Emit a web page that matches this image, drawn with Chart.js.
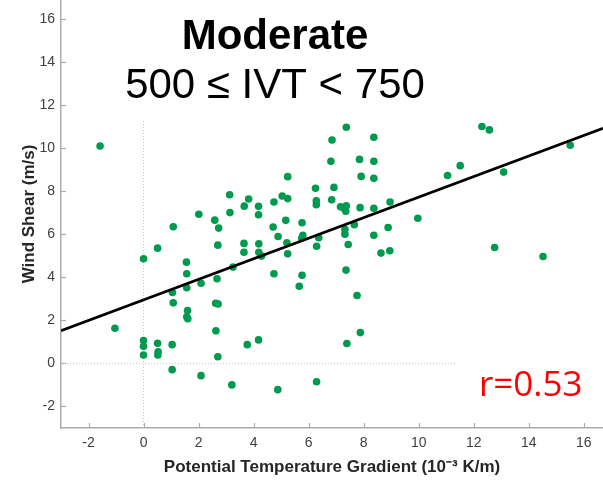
<!DOCTYPE html>
<html>
<head>
<meta charset="utf-8">
<script src="https://cdn.jsdelivr.net/npm/chart.js@4.4.1/dist/chart.umd.min.js"></script>
<style>
  html, body { margin: 0; padding: 0; background: #fff; overflow: hidden; }
  #wrap { position: relative; width: 603px; height: 481px; }
</style>
</head>
<body>
<div id="wrap"><canvas id="shearChart"></canvas></div>
<script>
// potential temperature gradient (10^-3 K/m) and wind shear (m/s)
const gradient = [
  -1.58, 0, 0.51, 1.08, 2.01, 2.59, 2.73, 2.70, 3.13, 3.14,
  1.56, 1.57, 3.25, 2.67, 2.09, 1.57, 1.05, 1.08, 2.62, 2.71,
  1.60, 1.57, 1.61, -1.04, 2.63, 0, 0, 0.51, 1.04, 0.53,
  0.52, 0, 2.70, 1.04, 2.09, 3.21, 7.37, 8.37, 6.85, 6.81,
  7.85, 8.37, 7.91, 8.37, 5.24, 6.92, 6.25, 3.82, 3.66, 4.18,
  4.18, 4.74, 5.04, 5.24, 6.28, 6.28, 6.84, 7.16, 7.27, 7.37,
  7.35, 7.87, 8.37, 8.96, 9.97, 5.17, 4.71, 5.76, 5.79, 5.75,
  4.89, 6.37, 7.32, 7.32, 7.66, 8.89, 8.37, 7.44, 6.29, 5.21,
  5.24, 4.19, 3.65, 3.65, 4.19, 4.29, 8.63, 8.95, 4.74, 5.76,
  5.66, 7.36, 7.76, 7.88, 7.39, 4.18, 3.77, 4.88, 6.29, 12.30,
  12.57, 15.51, 11.51, 11.05, 13.09, 12.76, 14.52
];
const shear = [
  10.09, 4.86, 5.35, 6.34, 6.92, 6.65, 6.28, 5.49, 7.83, 7.00,
  4.70, 4.16, 4.47, 3.93, 3.72, 3.51, 3.29, 2.81, 2.79, 2.76,
  2.45, 2.16, 2.07, 1.63, 1.51, 1.06, 0.79, 0.93, 0.87, 0.54,
  0.39, 0.39, 0.31, -0.29, -0.57, -1.00, 10.96, 10.50, 10.37, 9.38,
  9.47, 9.38, 8.68, 8.59, 8.67, 8.17, 8.13, 7.63, 7.30, 7.29,
  6.90, 7.49, 7.77, 7.65, 7.55, 7.37, 7.60, 7.27, 7.21, 7.32,
  7.06, 7.23, 7.20, 7.49, 6.74, 6.64, 6.33, 6.53, 5.95, 5.81,
  5.89, 5.83, 6.22, 6.00, 6.44, 6.31, 5.95, 5.52, 5.44, 5.60,
  5.09, 5.55, 5.57, 5.16, 5.16, 4.98, 5.12, 5.23, 4.16, 4.09,
  3.58, 4.33, 3.15, 1.43, 0.92, 1.09, 0.87, -1.22, -0.85, 11.00,
  10.84, 10.13, 9.18, 8.72, 8.88, 5.38, 4.96
];

const xTicks = [-2, 0, 2, 4, 6, 8, 10, 12, 14, 16];
const yTicks = [-2, 0, 2, 4, 6, 8, 10, 12, 14, 16];
const xLimits = [-3, 16.7];
const yLimits = [-3, 16.87];

// least squares fit as drawn in the figure
const fitIntercept = 2.95;
const fitSlope = 0.477;
const rText = "r=0.53";

// dotted zero lines stop short of the top/right in the figure
const zeroLineEnd = 11.35;

const axisGrey = "#ababab";
const pointGreen = "#009a4e";

const points = gradient.map((g, i) => ({ x: g, y: shear[i] }));
const fitLine = xLimits.map(x => ({ x: x, y: fitIntercept + fitSlope * x }));

const extras = {
  id: "extras",
  beforeDatasetsDraw(chart) {
    const ctx = chart.ctx;
    const xs = chart.scales.x, ys = chart.scales.y;
    const area = chart.chartArea;
    ctx.save();
    ctx.strokeStyle = axisGrey;
    ctx.lineWidth = 1.2;
    // inward tick marks
    xTicks.forEach(v => {
      const px = Math.round(xs.getPixelForValue(v)) + 0.5;
      ctx.beginPath();
      ctx.moveTo(px, area.bottom);
      ctx.lineTo(px, area.bottom - 5);
      ctx.stroke();
    });
    yTicks.forEach(v => {
      const py = Math.round(ys.getPixelForValue(v)) + 0.5;
      ctx.beginPath();
      ctx.moveTo(area.left, py);
      ctx.lineTo(area.left + 5, py);
      ctx.stroke();
    });
    ctx.restore();
  },
  afterDraw(chart) {
    const ctx = chart.ctx;
    ctx.save();
    ctx.fillStyle = "#000";
    ctx.textAlign = "center";
    ctx.textBaseline = "alphabetic";
    ctx.font = "bold 42px 'Liberation Sans', Arial, sans-serif";
    ctx.fillText("Moderate", 275, 49);
    ctx.font = "42px 'Liberation Sans', Arial, sans-serif";
    ctx.fillText("500 \u2264 IVT < 750", 275, 98);
    ctx.fillStyle = "#ff0000";
    ctx.textAlign = "left";
    ctx.font = "35px 'Open Sans', sans-serif";
    ctx.fillText(rText, 479, 396);
    ctx.restore();
  }
};

new Chart(document.getElementById("shearChart"), {
  type: "scatter",
  data: {
    datasets: [
      {
        type: "line",
        data: [{ x: 0, y: yLimits[0] }, { x: 0, y: zeroLineEnd }],
        borderColor: "#c4c4c4",
        borderWidth: 1,
        borderDash: [1, 2],
        pointRadius: 0,
        order: 3
      },
      {
        type: "line",
        data: [{ x: xLimits[0], y: 0 }, { x: zeroLineEnd, y: 0 }],
        borderColor: "#c4c4c4",
        borderWidth: 1,
        borderDash: [1, 2],
        pointRadius: 0,
        order: 3
      },
      {
        data: points,
        backgroundColor: pointGreen,
        borderColor: pointGreen,
        borderWidth: 0,
        pointRadius: 3.8,
        order: 2
      },
      {
        type: "line",
        data: fitLine,
        borderColor: "#000",
        borderWidth: 2.6,
        pointRadius: 0,
        order: 1
      }
    ]
  },
  options: {
    responsive: true,
    maintainAspectRatio: false,
    animation: false,
    layout: { padding: 0, autoPadding: false },
    plugins: { legend: { display: false }, tooltip: { enabled: false } },
    scales: {
      x: {
        type: "linear",
        min: xLimits[0],
        max: xLimits[1],
        afterBuildTicks: s => { s.ticks = xTicks.map(v => ({ value: v })); },
        afterFit: s => { s.height = 53; s.paddingLeft = 0; s.paddingRight = 0; },
        grid: { display: false, drawTicks: false },
        border: { display: true, color: axisGrey, width: 1.5 },
        ticks: {
          color: "#404040",
          padding: 7,
          maxRotation: 0,
          font: { family: "'Liberation Sans', Arial, sans-serif", size: 14 }
        },
        title: {
          display: true,
          text: "Potential Temperature Gradient (10\u207B\u00B3 K/m)",
          color: "#262626",
          padding: { top: 0, bottom: 3 },
          font: { family: "'Liberation Sans', Arial, sans-serif", size: 17, weight: "bold" }
        }
      },
      y: {
        type: "linear",
        min: yLimits[0],
        max: yLimits[1],
        afterBuildTicks: s => { s.ticks = yTicks.map(v => ({ value: v })); },
        afterFit: s => { s.width = 61; s.paddingTop = 0; s.paddingBottom = 0; },
        grid: { display: false, drawTicks: false },
        border: { display: true, color: axisGrey, width: 1.5 },
        ticks: {
          color: "#404040",
          padding: 6,
          font: { family: "'Liberation Sans', Arial, sans-serif", size: 14 }
        },
        title: {
          display: true,
          text: "Wind Shear (m/s)",
          color: "#262626",
          padding: { top: 19, bottom: 0 },
          font: { family: "'Liberation Sans', Arial, sans-serif", size: 17, weight: "bold" }
        }
      }
    }
  },
  plugins: [extras]
});
</script>
</body>
</html>
